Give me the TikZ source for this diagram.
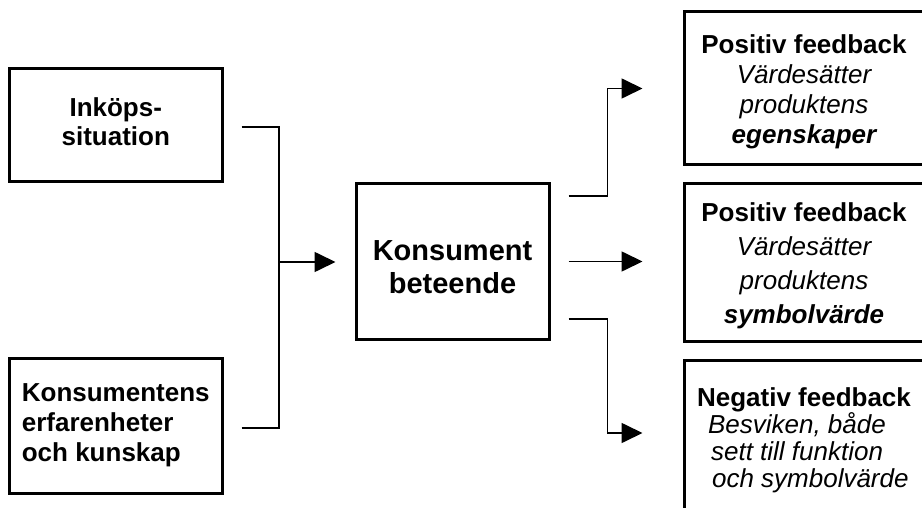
\documentclass[tikz,border=0pt]{standalone}
\usepackage{fontspec}
\setmainfont{Liberation Sans}
\usetikzlibrary{arrows.meta}
\begin{document}
\begin{tikzpicture}[x=1pt,y=-1pt,
  box/.style={draw, line width=3pt, rectangle, inner sep=0pt},
  conn/.style={line width=1.7pt},
  arr/.style={conn, -{Triangle[length=21pt,width=20pt]}},
  txt/.style={font=\fontsize{26}{#1}\selectfont},
]
\useasboundingbox (0,0) rectangle (922,508);
% left boxes
\node[box, minimum width=212.5pt, minimum height=113pt,
  label={[align=center, txt=29, yshift=4pt]center:{{\bfseries Inköps-}\\{\bfseries situation}}}]
  (in1) at (115.75,125.5) {};
\node[box, minimum width=212.5pt, minimum height=135pt,
  label={[align=left, txt=30]center:{{\bfseries Konsumentens}\\{\bfseries erfarenheter}\\{\bfseries och kunskap}}}]
  (in2) at (115.75,425.5) {};
% middle box
\node[box, minimum width=193pt, minimum height=155pt,
  label={[align=center, font=\fontsize{29}{33}\selectfont, yshift=-6pt]center:{{\bfseries Konsument}\\{\bfseries beteende}}}]
  (mid) at (452.5,261.5) {};
% right boxes
\node[box, minimum width=240pt, minimum height=153pt,
  label={[align=center, txt=30, yshift=-3pt]center:{{\bfseries Positiv feedback}\\{\itshape Värdesätter}\\{\itshape produktens}\\{\bfseries\itshape egenskaper}}}]
  (fa) at (804,88.5) {};
\node[box, minimum width=240pt, minimum height=157pt,
  label={[align=center, txt=34, yshift=-3pt]center:{{\bfseries Positiv feedback}\\{\itshape Värdesätter}\\{\itshape produktens}\\{\bfseries\itshape symbolvärde}}}]
  (fb) at (804,262.5) {};
\node[box, minimum width=240pt, minimum height=155pt,
  label={[align=left, txt=27, yshift=-3pt]center:{{\bfseries Negativ feedback}\\\hspace*{11pt}{\itshape Besviken, både}\\\hspace*{14pt}{\itshape sett till funktion}\\\hspace*{15pt}{\itshape och symbolvärde}}}]
  (fc) at (804,437.5) {};
% connectors in
\coordinate (j) at (279,262);
\draw[conn] ([shift={(18,1.5)}]in1.east) -| (j);
\draw[conn] ([shift={(18,2.5)}]in2.east) -| (j);
\draw[arr] (j) -- ([xshift=-19pt]mid.west |- j);
% connectors out
\draw[arr] ([shift={(18,-65.5)}]mid.east) -- ++(39,0) |- ([xshift=-40pt]fa.west);
\draw[arr] ([xshift=18pt]mid.east) -- ([xshift=-40pt]fb.west |- mid.east);
\draw[arr] ([shift={(18,57.5)}]mid.east) -- ++(39,0) |- ([shift={(-40,-4.5)}]fc.west);
\end{tikzpicture}
\end{document}
